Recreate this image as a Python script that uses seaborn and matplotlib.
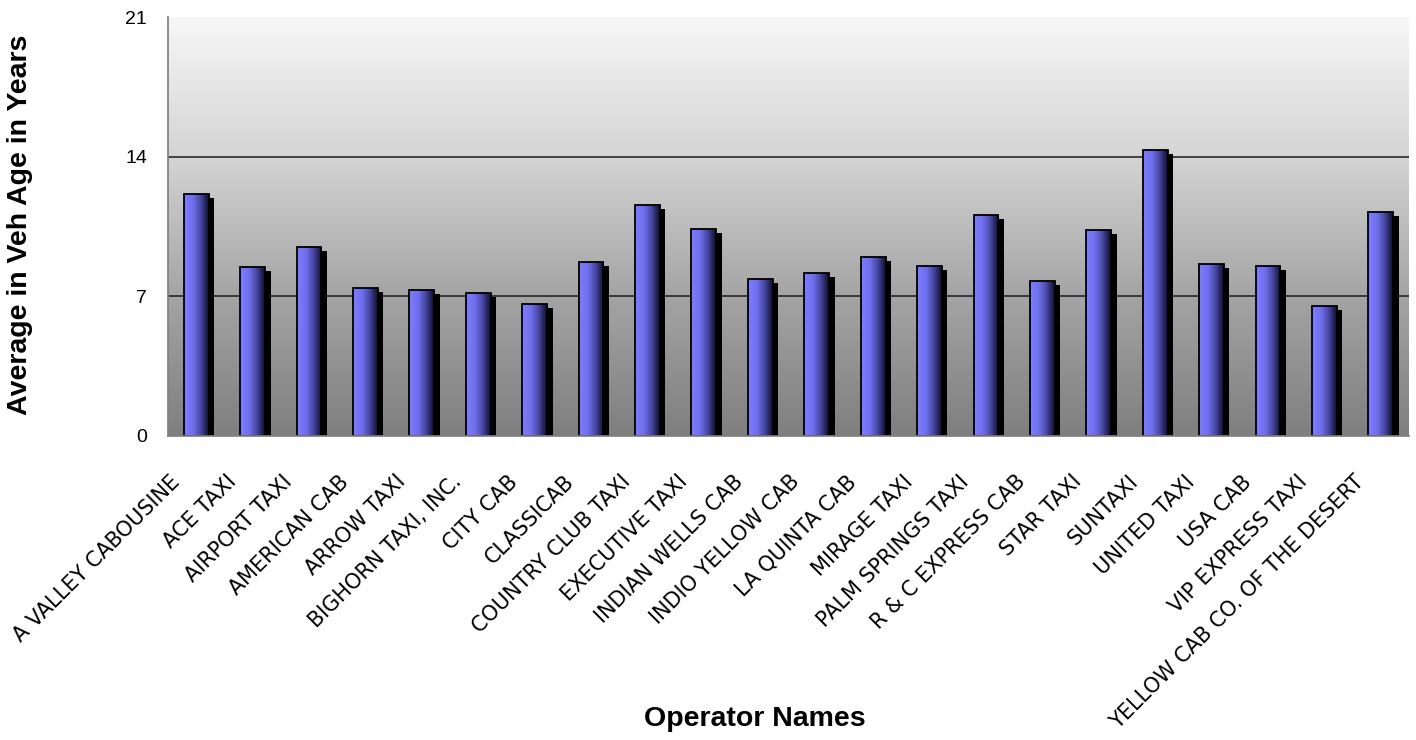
import numpy as np
import pandas as pd
import seaborn as sns
import matplotlib
matplotlib.use("Agg")
import matplotlib.pyplot as plt
from matplotlib.colors import LinearSegmentedColormap
from matplotlib.patches import Rectangle
from matplotlib import transforms
from matplotlib import font_manager

operators = ["A VALLEY CABOUSINE", "ACE TAXI", "AIRPORT TAXI", "AMERICAN CAB",
             "ARROW TAXI", "BIGHORN TAXI, INC.", "CITY CAB", "CLASSICAB",
             "COUNTRY CLUB TAXI", "EXECUTIVE TAXI", "INDIAN WELLS CAB",
             "INDIO YELLOW CAB", "LA QUINTA CAB", "MIRAGE TAXI",
             "PALM SPRINGS TAXI", "R & C EXPRESS CAB", "STAR TAXI", "SUNTAXI",
             "UNITED TAXI", "USA CAB", "VIP EXPRESS TAXI",
             "YELLOW CAB CO. OF THE DESERT"]
avg_age = [12.13, 8.45, 9.45, 7.43, 7.33, 7.15, 6.60, 8.72, 11.57, 10.37, 7.88,
           8.17, 8.98, 8.53, 11.10, 7.78, 10.30, 14.33, 8.62, 8.53, 6.50, 11.22]
y_ticks = [0, 7, 14, 21]
x_title = "Operator Names"
y_title = "Average in Veh Age in Years"

df = pd.DataFrame({"Operator": operators, "Age": avg_age})

sns.set_theme(style="white")
plt.rcParams['font.family'] = ['Liberation Sans', 'DejaVu Sans']
plt.rcParams['text.color'] = 'black'
plt.rcParams['xtick.color'] = 'black'
plt.rcParams['ytick.color'] = 'black'
plt.rcParams['axes.labelcolor'] = 'black'

names = {f.name for f in font_manager.fontManager.ttflist}
tick_family = 'DejaVu Sans Condensed' if 'DejaVu Sans Condensed' in names else 'DejaVu Sans'

fig = plt.figure(figsize=(14.16, 7.4), dpi=100)
ax = fig.add_axes([168/1416, (740-436)/740, (1409-168)/1416, (436-17)/740])

sns.barplot(data=df, x="Operator", y="Age", color="#7878f0", width=0.44,
            edgecolor="black", linewidth=1.3, ax=ax, zorder=3)

ax.set_xlim(-0.5, len(operators) - 0.5)
ax.set_ylim(0, 21)

# background gradient
bg_cmap = LinearSegmentedColormap.from_list("bg", ["#7f7f7f", "#a4a4a4", "#d4d4d4", "#f7f7f7"])
grad = np.linspace(0, 1, 256).reshape(-1, 1)
ax.imshow(grad, cmap=bg_cmap, aspect="auto", origin="lower",
          extent=(-0.5, len(operators) - 0.5, 0, 21), zorder=0)

# gridlines
for t in y_ticks[1:3]:
    ax.axhline(t, color="#1a1a1a", lw=1.1, zorder=1)

# bar gradient + shadow
bar_cmap = LinearSegmentedColormap.from_list(
    "bar", [(0, "#7c7cff"), (0.35, "#7070ee"), (0.65, "#4a4aa8"), (0.85, "#262660"), (1, "#101028")])
hgrad = np.linspace(0, 1, 128).reshape(1, -1)
shadow_tr = ax.transData + transforms.ScaledTranslation(5.5/100, -4/100, fig.dpi_scale_trans)
for p in list(ax.patches):
    x0, y0 = p.get_x(), p.get_y()
    w, h = p.get_width(), p.get_height()
    sh = Rectangle((x0, y0), w, h, facecolor="black", edgecolor="none",
                   transform=shadow_tr, zorder=2)
    ax.add_patch(sh)
    sh.set_clip_box(ax.bbox)
    im = ax.imshow(hgrad, cmap=bar_cmap, aspect="auto",
                   extent=(x0, x0 + w, y0, y0 + h), zorder=3.5)
    im.set_clip_path(p)
    p.set_facecolor("none")
    p.set_zorder(4)

ax.set_xlim(-0.5, len(operators) - 0.5)
ax.set_ylim(0, 21)

# axes styling
for s in ["top", "right"]:
    ax.spines[s].set_visible(False)
ax.spines["left"].set_color("#808080")
ax.spines["bottom"].set_color("#808080")
ax.spines["left"].set_zorder(5)
ax.spines["bottom"].set_zorder(5)

ax.set_yticks(y_ticks)
ax.set_yticklabels([str(t) for t in y_ticks], fontsize=14, color="black")
ax.tick_params(axis="y", direction="out", length=6, width=1, color="#444444", pad=9)

ax.set_xticks(range(len(operators)))
ax.set_xticks(np.arange(-0.5, len(operators)), minor=True)
ax.tick_params(axis="x", which="major", length=0, pad=4)
ax.tick_params(axis="x", which="minor", direction="out", length=6, width=1, color="#444444")
ax.set_xticklabels(operators, rotation=45, ha="right", rotation_mode="anchor",
                   fontsize=15, family=[tick_family, 'DejaVu Sans'], color="black")
for lbl in ax.get_xticklabels():
    lbl.set_transform(lbl.get_transform() + transforms.ScaledTranslation(-27/100, -30/100, fig.dpi_scale_trans))

ax.set_xlabel("")
ax.set_ylabel("")
fig.text(755/1416, 1 - 719/740, x_title, ha="center", va="center",
         fontsize=20.5, fontweight="bold", color="black")
fig.text(20/1416, 1 - 225/740, y_title, ha="center", va="center",
         rotation=90, fontsize=20.5, fontweight="bold", color="black")

fig.savefig("out.png", dpi=100)
